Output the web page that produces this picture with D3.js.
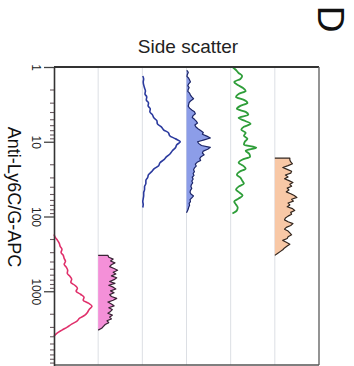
<!DOCTYPE html>
<html>
<head>
<meta charset="utf-8">
<script src="https://cdn.jsdelivr.net/npm/d3@7"></script>
<style>
  body { margin: 0; background: #fff; }
  svg { display: block; }
</style>
</head>
<body>
<script>
// six histogram lanes, side by side
const lanes = ["ly6_ctrl", "ly6_stain", "ssc_ctrl", "ssc_stain", "grn_ctrl", "grn_stain"];

// histograms are sampled in log10 bins; open curves use a coarse step, filled ones a fine one
const coarseStep = 0.04;
const fineStep = 0.025;

const redStart = 2.24;
const redCounts = [0, 3, 8, 12, 14, 18, 16, 21, 23, 26, 23, 28, 31, 30, 36, 40, 38, 47, 53, 50,
  60, 68, 66, 78, 86, 80, 76, 70, 58, 52, 40, 30, 18, 7, 0];

const pinkStart = 2.52;
const pinkCounts = [22, 24, 34, 28, 38, 30, 26, 36, 44, 34, 40, 30, 42, 36, 26, 38, 24, 34, 40, 28,
  36, 26, 30, 42, 34, 22, 30, 36, 24, 32, 28, 22, 32, 26, 30, 20, 24, 16, 12, 8, 0];

const blueStart = 0.12;
const blueCounts = [1, 3, 2, 3, 5, 7, 6, 10, 9, 14, 13, 18, 17, 23, 26, 33, 34, 43, 48, 59,
  62, 75, 86, 78, 75, 68, 63, 55, 49, 40, 37, 27, 21, 14, 12, 8, 8, 5, 5, 3, 3, 2, 1, 2, 1];

const blueFillStart = 0.05;
const blueFillCounts = [2, 4, 2, 1, 5, 7, 9, 5, 3, 6, 4, 3, 7, 9, 12, 16, 10, 6, 5, 4,
  7, 12, 18, 20, 15, 13, 18, 22, 25, 19, 21, 26, 32, 38, 36, 46, 54, 40, 25, 28,
  34, 54, 48, 38, 36, 40, 33, 30, 32, 24, 20, 22, 18, 16, 18, 15, 17, 13, 15, 12,
  14, 11, 10, 12, 9, 8, 10, 16, 12, 8, 9, 6, 7, 5, 4, 2, 0];

const greenStart = 0.0;
const greenCounts = [4, 12, 18, 26, 22, 8, 16, 28, 34, 18, 12, 30, 38, 22, 14, 34, 40, 18, 32, 45,
  30, 24, 34, 30, 38, 32, 30, 58, 34, 42, 44, 26, 18, 28, 34, 20, 14, 22, 26, 30,
  18, 12, 20, 27, 18, 8, 12, 16, 14, 4];

const peachStart = 1.22;
const peachCounts = [34, 34, 36, 40, 30, 18, 28, 38, 36, 24, 30, 22, 32, 41, 34, 38, 28, 32, 26, 36,
  44, 50, 38, 42, 30, 34, 28, 40, 45, 36, 38, 30, 24, 22, 30, 41, 36, 26, 22, 30,
  34, 38, 30, 28, 18, 26, 34, 28, 22, 18, 12, 6, 0];

const majorTicks = [1, 10, 100, 1000];
const tickLabels = ["1", "10", "100", "1000"];

const series = [
  { lane: lanes[0], start: redStart, step: coarseStep, counts: redCounts, fill: null, stroke: "#e0306b", sw: 1.6 },
  { lane: lanes[1], start: pinkStart, step: fineStep, counts: pinkCounts, fill: "#f490d8", stroke: "#3a2436", sw: 1.2 },
  { lane: lanes[2], start: blueStart, step: coarseStep, counts: blueCounts, fill: null, stroke: "#2b3a9e", sw: 1.6 },
  { lane: lanes[3], start: blueFillStart, step: fineStep, counts: blueFillCounts, fill: "#8c9de8", stroke: "#1d2668", sw: 1.2 },
  { lane: lanes[4], start: greenStart, step: coarseStep, counts: greenCounts, fill: null, stroke: "#2f9e3a", sw: 1.8 },
  { lane: lanes[5], start: peachStart, step: fineStep, counts: peachCounts, fill: "#f8c8a6", stroke: "#33261e", sw: 1.2 }
];

const W = 354, H = 366;
const plotTop = 67, plotBottom = 365, plotLeft = 54, plotRight = 319;

const svg = d3.select("body").append("svg")
  .attr("width", W)
  .attr("height", H)
  .style("font-family", "Liberation Sans, Arial, sans-serif");

const y = d3.scaleLog().domain([1, 10000]).range([plotTop, plotBottom + 1]);
const lane = d3.scaleBand().domain(lanes).range([plotLeft, plotRight]);
const cnt = d3.scaleLinear().domain([0, 100]).range([0, lane.bandwidth()]);

// lane separators
svg.append("g")
  .selectAll("line")
  .data(lanes.slice(1))
  .join("line")
  .attr("x1", d => lane(d))
  .attr("x2", d => lane(d))
  .attr("y1", plotTop)
  .attr("y2", plotBottom)
  .attr("stroke", "#dcdfe4")
  .attr("stroke-width", 1);

// histograms
series.forEach(s => {
  const base = lane(s.lane);
  let pts = s.counts.map((c, i) => ({ l: s.start + i * s.step, c }));
  const py = d => y(Math.pow(10, d.l));
  const px = d => base + cnt(d.c);

  if (s.fill) {
    pts = [{ l: pts[0].l, c: 0 }, ...pts, { l: pts[pts.length - 1].l, c: 0 }];
    svg.append("path")
      .datum(pts)
      .attr("fill", s.fill)
      .attr("d", d3.area().x0(base).x1(px).y(py));
    svg.append("path")
      .datum(pts)
      .attr("fill", "none")
      .attr("stroke", s.stroke)
      .attr("stroke-width", s.sw)
      .attr("stroke-linejoin", "round")
      .attr("d", d3.line().x(px).y(py));
  } else {
    svg.append("path")
      .datum(pts)
      .attr("fill", "none")
      .attr("stroke", s.stroke)
      .attr("stroke-width", s.sw)
      .attr("stroke-linejoin", "round")
      .attr("d", d3.line().x(px).y(py).curve(d3.curveMonotoneY));
  }
});

// frame
svg.append("line").attr("x1", plotLeft).attr("x2", plotRight).attr("y1", plotTop).attr("y2", plotTop)
  .attr("stroke", "#333").attr("stroke-width", 1.8);
svg.append("line").attr("x1", plotRight).attr("x2", plotRight).attr("y1", plotTop).attr("y2", plotBottom)
  .attr("stroke", "#666").attr("stroke-width", 1.4);
svg.append("line").attr("x1", plotLeft).attr("x2", plotRight).attr("y1", plotBottom).attr("y2", plotBottom)
  .attr("stroke", "#555").attr("stroke-width", 1.3);

// minor ticks
const minorTicks = [];
[1, 10, 100, 1000].forEach(dec => {
  for (let k = 2; k <= 9; k++) minorTicks.push(dec * k);
});

svg.append("g")
  .attr("transform", `translate(${plotLeft},0)`)
  .call(d3.axisLeft(y).tickValues(minorTicks).tickSize(4).tickSizeOuter(0).tickFormat(""))
  .call(g => g.select(".domain").remove())
  .call(g => g.selectAll(".tick line").attr("stroke", "#6a5a60").attr("stroke-width", 1.1));

// major ticks + rotated labels
svg.append("g")
  .attr("transform", `translate(${plotLeft},0)`)
  .call(d3.axisLeft(y).tickValues(majorTicks).tickSize(10).tickSizeOuter(0)
    .tickFormat((d, i) => tickLabels[i]))
  .call(g => g.select(".domain").attr("stroke", "#333").attr("stroke-width", 1.6))
  .call(g => g.selectAll(".tick line").attr("stroke", "#444").attr("stroke-width", 1.3))
  .call(g => g.selectAll(".tick text")
    .attr("x", 0).attr("y", 0).attr("dy", 0)
    .attr("text-anchor", "middle")
    .attr("transform", `translate(${32 - plotLeft},0) rotate(90)`)
    .attr("font-size", 12)
    .attr("font-family", "Liberation Sans, Arial, sans-serif")
    .attr("fill", "#222"));

// axis title
svg.append("text")
  .attr("transform", "translate(8,197) rotate(90)")
  .attr("text-anchor", "middle")
  .attr("font-size", 18)
  .attr("fill", "#111")
  .text("Anti-Ly6C/G-APC");

// plot title
svg.append("text")
  .attr("x", 188)
  .attr("y", 53)
  .attr("text-anchor", "middle")
  .attr("font-size", 19)
  .attr("fill", "#222")
  .text("Side scatter");

// panel letter
svg.append("text")
  .attr("transform", "translate(318,19) rotate(90)")
  .attr("text-anchor", "middle")
  .attr("font-size", 37)
  .attr("fill", "#111")
  .text("D");
</script>
</body>
</html>
